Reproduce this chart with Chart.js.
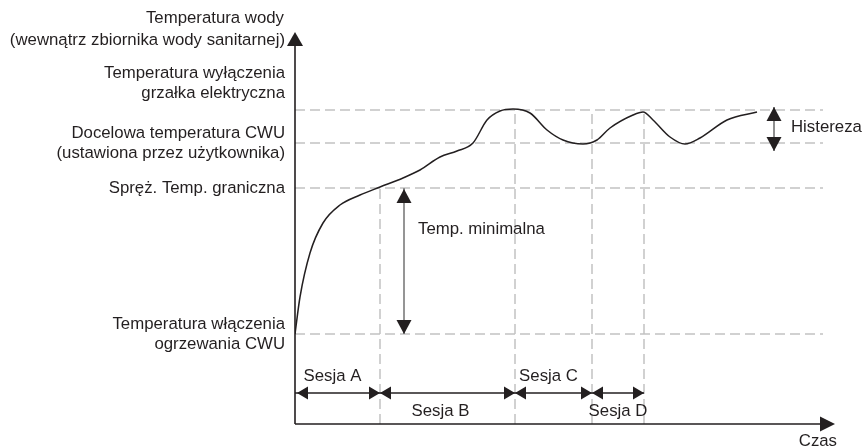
<!DOCTYPE html>
<html lang="pl">
<head>
<meta charset="utf-8">
<script src="https://cdn.jsdelivr.net/npm/chart.js@4"></script>
<style>
  html, body { margin: 0; padding: 0; background: #fff; }
  #wrap { width: 864px; height: 448px; }
</style>
</head>
<body>
<div id="wrap"><canvas id="wykres"></canvas></div>
<script>
// przebieg temperatury wody w zbiorniku
const czas = [0, 5, 15, 28, 45, 65, 85, 108, 125, 145, 162, 178, 192, 205, 218, 235, 252, 268, 288, 302, 315, 338, 348, 358, 375, 390, 405, 432, 462];
const temperatura = [90, 127, 171, 201, 219, 229, 237, 246, 254, 267, 273, 281, 304, 313, 315, 311, 294, 284, 280, 284, 296, 309, 312, 304, 287, 280, 286, 304, 312];

// poziomy na osi temperatury (od dołu)
const poziomy = [90, 236, 281, 314];
const etykietyPoziomow = [
  ["Temperatura włączenia", "ogrzewania CWU"],
  ["Spręż. Temp. graniczna"],
  ["Docelowa temperatura CWU", "(ustawiona przez użytkownika)"],
  ["Temperatura wyłączenia", "grzałka elektryczna"]
];

// granice sesji na osi czasu i do jakiego poziomu sięga linia granicy
const granice = [0, 85, 220, 297, 349];
const gornyKoniecGranicy = [null, 236, 314, 314, 314];
const sesje = ["Sesja A", "Sesja B", "Sesja C", "Sesja D"];

const tytulOsiY = ["Temperatura wody", "(wewnątrz zbiornika wody sanitarnej)"];
const tytulOsiX = "Czas";

const FONT = '16.8px "Liberation Sans", Arial, Helvetica, sans-serif';
const CZARNY = '#231f20';
const SZARY_PRZERYWANY = '#c2c2c2';

const KONIEC_LINII = 528;   // gdzie kończą się poziome linie przerywane
const Y_SESJI = 31;         // wysokość strzałek sesji
const X_MINIMALNA = 109;    // strzałka "Temp. minimalna"
const X_HISTEREZA = 479;    // strzałka "Histereza"
const HISTEREZA_OD_DO = [273, 317];

const datasets = [];

// krzywa temperatury
datasets.push({
  data: czas.map((t, i) => ({ x: t, y: temperatura[i] })),
  borderColor: CZARNY,
  borderWidth: 1.5,
  tension: 0.4,
  cubicInterpolationMode: 'monotone',
  order: 0
});

// poziome linie przerywane
poziomy.forEach(p => {
  datasets.push({
    data: [{ x: 0, y: p }, { x: KONIEC_LINII, y: p }],
    borderColor: SZARY_PRZERYWANY,
    borderWidth: 1.5,
    borderDash: [10, 5],
    order: 5
  });
});

// pionowe linie granic sesji
granice.forEach((g, i) => {
  if (gornyKoniecGranicy[i] === null) return;
  datasets.push({
    data: [{ x: g, y: 0 }, { x: g, y: gornyKoniecGranicy[i] }],
    borderColor: SZARY_PRZERYWANY,
    borderWidth: 1.5,
    borderDash: [10, 5],
    order: 5
  });
});

// trzon strzałek sesji
datasets.push({
  data: [{ x: granice[0], y: Y_SESJI }, { x: granice[granice.length - 1], y: Y_SESJI }],
  borderColor: CZARNY,
  borderWidth: 1.5,
  order: 2
});

// trzon strzałki temperatury minimalnej
datasets.push({
  data: [{ x: X_MINIMALNA, y: poziomy[0] }, { x: X_MINIMALNA, y: poziomy[1] }],
  borderColor: '#8a8a8a',
  borderWidth: 1.8,
  order: 2
});

// trzon strzałki histerezy
datasets.push({
  data: [{ x: X_HISTEREZA, y: HISTEREZA_OD_DO[0] }, { x: X_HISTEREZA, y: HISTEREZA_OD_DO[1] }],
  borderColor: '#6a6a6a',
  borderWidth: 1.5,
  order: 2
});

function grot(ctx, x, y, dx, dy, dl, pol) {
  // grot strzałki: czubek w (x,y), kierunek (dx,dy)
  const bx = x - dx * dl, by = y - dy * dl;
  ctx.beginPath();
  ctx.moveTo(x, y);
  ctx.lineTo(bx - dy * pol, by + dx * pol);
  ctx.lineTo(bx + dy * pol, by - dx * pol);
  ctx.closePath();
  ctx.fill();
}

const opisy = {
  id: 'opisy',
  afterDatasetsDraw(chart) {
    const ctx = chart.ctx;
    const sx = chart.scales.x, sy = chart.scales.y;
    const ca = chart.chartArea;
    const x0 = sx.getPixelForValue(0), y0 = sy.getPixelForValue(0);

    ctx.save();
    ctx.fillStyle = CZARNY;
    ctx.strokeStyle = CZARNY;

    // osie
    ctx.lineWidth = 1.6;
    ctx.beginPath();
    ctx.moveTo(x0, y0);
    ctx.lineTo(x0, ca.top + 12);
    ctx.moveTo(x0, y0);
    ctx.lineTo(ca.right - 12, y0);
    ctx.stroke();
    grot(ctx, x0, ca.top, 0, -1, 14, 8);
    grot(ctx, ca.right, y0, 1, 0, 15, 7.5);

    // groty strzałek sesji
    const ys = sy.getPixelForValue(Y_SESJI);
    for (let i = 0; i < sesje.length; i++) {
      const a = sx.getPixelForValue(granice[i]) + (i === 0 ? 2 : 0);
      const b = sx.getPixelForValue(granice[i + 1]);
      grot(ctx, a, ys, -1, 0, 11, 6.5);
      grot(ctx, b, ys, 1, 0, 11, 6.5);
    }

    // strzałka temperatury minimalnej
    const xm = sx.getPixelForValue(X_MINIMALNA);
    grot(ctx, xm, sy.getPixelForValue(poziomy[1]) + 1, 0, -1, 14, 7.5);
    grot(ctx, xm, sy.getPixelForValue(poziomy[0]), 0, 1, 14, 7.5);

    // strzałka histerezy
    const xh = sx.getPixelForValue(X_HISTEREZA);
    grot(ctx, xh, sy.getPixelForValue(HISTEREZA_OD_DO[1]), 0, -1, 14, 7.5);
    grot(ctx, xh, sy.getPixelForValue(HISTEREZA_OD_DO[0]), 0, 1, 14, 7.5);

    // teksty
    ctx.font = FONT;
    ctx.textBaseline = 'middle';
    const wiersz = 20;

    ctx.textAlign = 'right';
    ctx.fillText(tytulOsiY[0], x0 - 11, 18);
    ctx.fillText(tytulOsiY[1], x0 - 10, 40);

    etykietyPoziomow.forEach((linie, i) => {
      const yp = sy.getPixelForValue(poziomy[i]);
      // najwyższa etykieta stoi nad swoją linią, pozostałe są wyśrodkowane
      let start = i === poziomy.length - 1
        ? yp - 7 - wiersz * (linie.length - 1) - 10
        : yp - wiersz * (linie.length - 1) / 2;
      linie.forEach((t, k) => ctx.fillText(t, x0 - 10, start + k * wiersz));
    });

    ctx.fillText(tytulOsiX, ca.right + 2, y0 + 17);

    ctx.textAlign = 'center';
    sesje.forEach((s, i) => {
      const srodek = (sx.getPixelForValue(granice[i]) + sx.getPixelForValue(granice[i + 1])) / 2;
      const yt = i % 2 === 0 ? ys - 17 : ys + 18;
      const przes = i % 2 === 0 ? -5 : (i === 1 ? -7 : 0);
      ctx.fillText(s, srodek + przes, yt);
    });

    ctx.textAlign = 'left';
    ctx.fillText('Temp. minimalna', xm + 14, sy.getPixelForValue(poziomy[1]) + 41);
    ctx.fillText('Histereza', xh + 17, (sy.getPixelForValue(HISTEREZA_OD_DO[0]) + sy.getPixelForValue(HISTEREZA_OD_DO[1])) / 2 - 2);

    ctx.restore();
  }
};

new Chart(document.getElementById('wykres'), {
  type: 'scatter',
  data: { datasets },
  options: {
    responsive: true,
    maintainAspectRatio: false,
    animation: false,
    showLine: true,
    layout: { padding: { left: 295, top: 32, right: 29, bottom: 24 } },
    elements: { point: { radius: 0, hoverRadius: 0 } },
    scales: {
      x: { type: 'linear', min: 0, max: 540, display: false },
      y: { type: 'linear', min: 0, max: 392, display: false }
    },
    plugins: {
      legend: { display: false },
      tooltip: { enabled: false }
    }
  },
  plugins: [opisy]
});
</script>
</body>
</html>
